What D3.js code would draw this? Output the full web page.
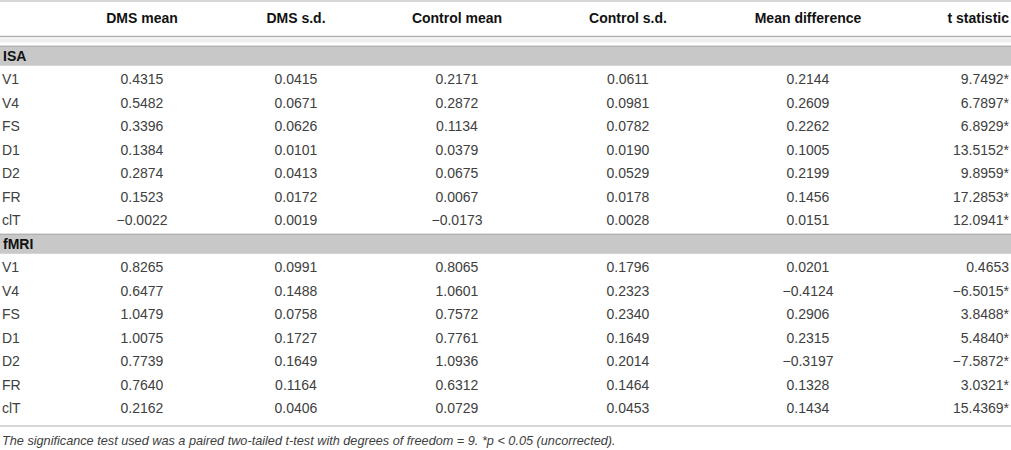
<!DOCTYPE html>
<html>
<head>
<meta charset="utf-8">
<script src="https://cdn.jsdelivr.net/npm/d3@7"></script>
<style>
html,body{margin:0;padding:0;background:#fff;}
svg{display:block;}
</style>
</head>
<body>
<svg id="chart" width="1011" height="450"></svg>
<script>
// ---- data ----
const headers = ["", "DMS mean", "DMS s.d.", "Control mean", "Control s.d.", "Mean difference", "t statistic"];
const sections = ["ISA", "fMRI"];
const regions = ["V1", "V4", "FS", "D1", "D2", "FR", "clT"];
const dmsMean = [0.4315, 0.5482, 0.3396, 0.1384, 0.2874, 0.1523, -0.0022,
                 0.8265, 0.6477, 1.0479, 1.0075, 0.7739, 0.7640, 0.2162];
const dmsSd = [0.0415, 0.0671, 0.0626, 0.0101, 0.0413, 0.0172, 0.0019,
               0.0991, 0.1488, 0.0758, 0.1727, 0.1649, 0.1164, 0.0406];
const controlMean = [0.2171, 0.2872, 0.1134, 0.0379, 0.0675, 0.0067, -0.0173,
                     0.8065, 1.0601, 0.7572, 0.7761, 1.0936, 0.6312, 0.0729];
const controlSd = [0.0611, 0.0981, 0.0782, 0.0190, 0.0529, 0.0178, 0.0028,
                   0.1796, 0.2323, 0.2340, 0.1649, 0.2014, 0.1464, 0.0453];
const meanDiff = [0.2144, 0.2609, 0.2262, 0.1005, 0.2199, 0.1456, 0.0151,
                  0.0201, -0.4124, 0.2906, 0.2315, -0.3197, 0.1328, 0.1434];
const tStat = [9.7492, 6.7897, 6.8929, 13.5152, 9.8959, 17.2853, 12.0941,
               0.4653, -6.5015, 3.8488, 5.4840, -7.5872, 3.0321, 15.4369];
const significant = [true, true, true, true, true, true, true,
                     false, true, true, true, true, true, true];
const footnote = "The significance test used was a paired two-tailed t-test with degrees of freedom = 9. *p < 0.05 (uncorrected).";

// ---- layout ----
const W = 1011, H = 450;
const svg = d3.select("#chart");
const fmt = v => d3.format(".4f")(v).replace("-", "\u2212");
const columnsData = [dmsMean, dmsSd, controlMean, controlSd, meanDiff, tStat];

// row keys
const rowKeys = [];
sections.forEach(s => {
  rowKeys.push({type: "section", key: "sec-" + s, label: s});
  regions.forEach((r, i) => rowKeys.push({type: "row", key: s + "-" + r, label: r, idx: sections.indexOf(s) * regions.length + i}));
});

const y = d3.scaleBand().domain(rowKeys.map(d => d.key)).range([44, 420]).paddingInner(0).paddingOuter(0);
const x = d3.scaleOrdinal().domain(headers.slice(1)).range([142, 296, 457, 628, 808, 1009]);
const anchors = ["middle", "middle", "middle", "middle", "middle", "end"];

const font = "'Liberation Sans', Arial, Helvetica, sans-serif";
const txtCol = "#404040";

// top rule
svg.append("line").attr("x1", 0).attr("x2", W).attr("y1", 1).attr("y2", 1)
  .attr("stroke", "#b0b0b0").attr("stroke-width", 1.2);
// header text
svg.append("g").selectAll("text").data(headers.slice(1)).join("text")
  .attr("x", d => x(d)).attr("y", 18)
  .attr("dy", "0.35em")
  .attr("text-anchor", (d, i) => anchors[i])
  .attr("font-family", font).attr("font-weight", "bold").attr("font-size", 14)
  .attr("fill", "#111").text(d => d);
// header rule
svg.append("line").attr("x1", 0).attr("x2", W).attr("y1", 36.5).attr("y2", 36.5)
  .attr("stroke", "#b0b0b0").attr("stroke-width", 1.6);
svg.append("rect").attr("x", 0).attr("width", W).attr("y", 38.5).attr("height", 4)
  .attr("fill", "#efefef");

// section bands
const secRows = rowKeys.filter(d => d.type === "section");
const bandH = 20;
const g = svg.append("g");
g.selectAll("rect.band").data(secRows).join("rect").attr("class", "band")
  .attr("x", 0).attr("width", W)
  .attr("y", d => y(d.key) + y.bandwidth() / 2 - bandH / 2)
  .attr("height", bandH).attr("fill", "#c8c8c8");
g.selectAll("line.bandtop").data(secRows).join("line").attr("class", "bandtop")
  .attr("x1", 0).attr("x2", W)
  .attr("y1", d => y(d.key) + y.bandwidth() / 2 - bandH / 2 + 0.5)
  .attr("y2", d => y(d.key) + y.bandwidth() / 2 - bandH / 2 + 0.5)
  .attr("stroke", "#a9a9a9").attr("stroke-width", 1);
g.selectAll("text.sec").data(secRows).join("text").attr("class", "sec")
  .attr("x", 3).attr("y", d => y(d.key) + y.bandwidth() / 2)
  .attr("dy", "0.35em")
  .attr("font-family", font).attr("font-weight", "bold").attr("font-size", 14)
  .attr("fill", "#111").text(d => d.label);

// data rows
const dataRows = rowKeys.filter(d => d.type === "row");
const rowG = g.selectAll("g.row").data(dataRows).join("g").attr("class", "row")
  .attr("transform", d => `translate(0,${y(d.key) + y.bandwidth() / 2})`);
rowG.append("text").attr("x", 2).attr("dy", "0.35em")
  .attr("font-family", font).attr("font-size", 14).attr("fill", txtCol)
  .text(d => d.label);
rowG.each(function(d) {
  const sel = d3.select(this);
  columnsData.forEach((col, ci) => {
    let txt = fmt(col[d.idx]);
    if (ci === 5 && significant[d.idx]) txt += "*";
    sel.append("text").attr("x", x(headers[ci + 1])).attr("dy", "0.35em")
      .attr("text-anchor", anchors[ci])
      .attr("font-family", font).attr("font-size", 14).attr("fill", txtCol)
      .text(txt);
  });
});

// bottom rule
svg.append("line").attr("x1", 0).attr("x2", W).attr("y1", 426).attr("y2", 426)
  .attr("stroke", "#b0b0b0").attr("stroke-width", 1.2);
// footnote
svg.append("text").attr("x", 2).attr("y", 441).attr("dy", "0.35em")
  .attr("font-family", font).attr("font-style", "italic").attr("font-size", 12.7)
  .attr("fill", txtCol).text(footnote);
</script>
</body>
</html>
